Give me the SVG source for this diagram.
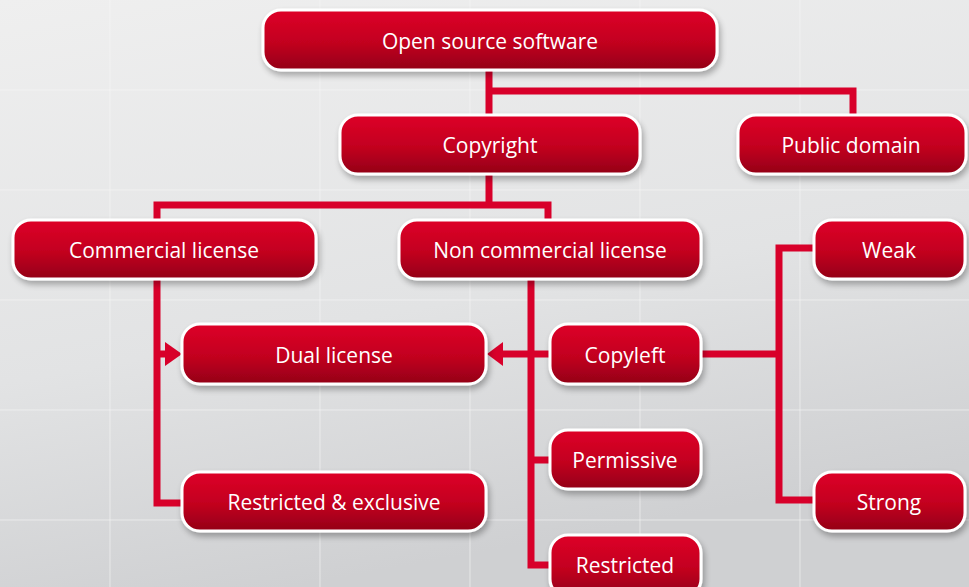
<svg xmlns="http://www.w3.org/2000/svg" width="969" height="587" viewBox="0 0 969 587">
<defs>
<linearGradient id="bg" x1="0" y1="0" x2="0.3" y2="1">
<stop offset="0" stop-color="#efefef"/>
<stop offset="0.6" stop-color="#e2e3e4"/>
<stop offset="1" stop-color="#cfd0d2"/>
</linearGradient>
<linearGradient id="box" x1="0" y1="0" x2="0" y2="1">
<stop offset="0" stop-color="#de0028"/>
<stop offset="0.55" stop-color="#c2001f"/>
<stop offset="1" stop-color="#930017"/>
</linearGradient>
<filter id="sh" x="-10%" y="-20%" width="125%" height="160%">
<feGaussianBlur in="SourceAlpha" stdDeviation="3"/>
<feOffset dx="2" dy="4"/>
<feComponentTransfer><feFuncA type="linear" slope="0.3"/></feComponentTransfer>
<feMerge><feMergeNode/><feMergeNode in="SourceGraphic"/></feMerge>
</filter>
</defs>
<style>
.n rect{fill:url(#box);stroke:#fff;stroke-width:3;filter:url(#sh)}
.n text{fill:#fff;font-family:"Open Sans","Liberation Sans",sans-serif;font-size:21px;text-anchor:middle;dominant-baseline:central}
.c path{fill:none;stroke:#d8002a;stroke-width:7}
.c polygon{fill:#d8002a}
.g{fill:none;stroke:#f7f7f7;stroke-width:1;opacity:0.6}
</style>
<rect width="969" height="587" fill="url(#bg)"/>
<g class="g">
<path d="M0 90H969M0 190H969M0 300H969M0 410H969M0 520H969M110 0V587M320 0V587M470 0V587M640 0V587M800 0V587"/>
</g>
<g class="c">
<path d="M489 70V115M489 91H853V115"/>
<path d="M489 174V205M157 220V205H548V220"/>
<path d="M157 279V503H182"/>
<path d="M157 354H166"/>
<polygon points="165,342 182,354 165,366"/>
<path d="M550 354H500"/>
<polygon points="503,342 487,354 503,366"/>
<path d="M531 279V565H550M531 460H550"/>
<path d="M701 354H779M814 248H779V500H814"/>
</g>
<g id="open-source" class="n"><rect x="263" y="10" width="454" height="60" rx="18"/><text x="490" y="41">Open source software</text></g>
<g id="copyright" class="n"><rect x="340" y="115" width="300" height="59" rx="18"/><text x="490" y="145">Copyright</text></g>
<g id="public-domain" class="n"><rect x="738" y="115" width="228" height="59" rx="18"/><text x="851" y="145">Public domain</text></g>
<g id="commercial" class="n"><rect x="13" y="220" width="303" height="59" rx="18"/><text x="164" y="250">Commercial license</text></g>
<g id="non-commercial" class="n"><rect x="399" y="220" width="302" height="59" rx="18"/><text x="550" y="250">Non commercial license</text></g>
<g id="weak" class="n"><rect x="814" y="220" width="151" height="59" rx="18"/><text x="889" y="250">Weak</text></g>
<g id="dual" class="n"><rect x="182" y="324" width="304" height="60" rx="18"/><text x="334" y="355">Dual license</text></g>
<g id="copyleft" class="n"><rect x="550" y="324" width="151" height="60" rx="18"/><text x="625" y="355">Copyleft</text></g>
<g id="permissive" class="n"><rect x="550" y="430" width="151" height="59" rx="18"/><text x="625" y="460">Permissive</text></g>
<g id="restricted-exclusive" class="n"><rect x="182" y="472" width="304" height="59" rx="18"/><text x="334" y="502">Restricted &amp; exclusive</text></g>
<g id="strong" class="n"><rect x="814" y="472" width="151" height="59" rx="18"/><text x="889" y="502">Strong</text></g>
<g id="restricted" class="n"><rect x="550" y="535" width="151" height="62" rx="18"/><text x="625" y="565">Restricted</text></g>
</svg>
